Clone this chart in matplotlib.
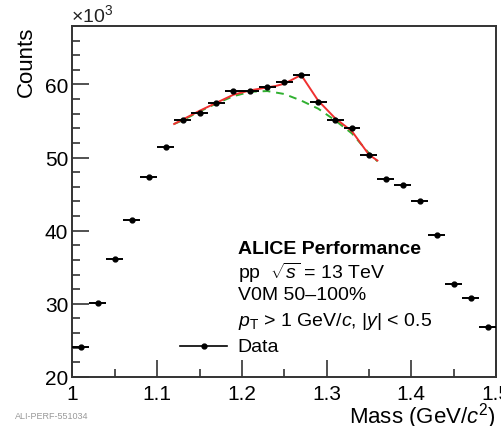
import matplotlib
matplotlib.use("Agg")
import matplotlib.pyplot as plt
from matplotlib.ticker import MultipleLocator, FuncFormatter
from matplotlib.lines import Line2D

plt.rcParams['font.family'] = ['Liberation Sans', 'DejaVu Sans']
plt.rcParams['mathtext.fontset'] = 'custom'
plt.rcParams['mathtext.rm'] = 'Liberation Sans'
plt.rcParams['mathtext.it'] = 'Liberation Sans:italic'

# invariant mass bin centres (GeV/c^2) and counts (x10^3)
mass = [1.01, 1.03, 1.05, 1.07, 1.09, 1.11, 1.13, 1.15, 1.17, 1.19, 1.21, 1.23, 1.25,
        1.27, 1.29, 1.31, 1.33, 1.35, 1.37, 1.39, 1.41, 1.43, 1.45, 1.47, 1.49]
counts = [24.1, 30.1, 36.2, 41.4, 47.3, 51.5, 55.1, 56.1, 57.5, 59.1, 59.1, 59.7, 60.4,
          61.3, 57.6, 55.2, 54.0, 50.3, 47.1, 46.3, 44.0, 39.4, 32.7, 30.8, 26.9]
counts_err = [0.16, 0.17, 0.19, 0.20, 0.22, 0.23, 0.23, 0.24, 0.24, 0.24, 0.24, 0.24, 0.25,
              0.25, 0.24, 0.23, 0.23, 0.22, 0.22, 0.22, 0.21, 0.20, 0.18, 0.18, 0.16]
bin_half = 0.01

# total fit (signal + background)
fit_x = [1.12, 1.13, 1.15, 1.17, 1.19, 1.21, 1.23, 1.24, 1.25, 1.26, 1.27, 1.29, 1.31, 1.33, 1.35, 1.36]
fit_y = [54.6, 55.2, 56.4, 57.5, 58.6, 59.2, 59.6, 59.8, 60.1, 60.7, 61.3, 57.8, 55.4, 53.6, 50.4, 49.6]

# residual background
bkg_x = [1.12, 1.13, 1.15, 1.17, 1.19, 1.21, 1.23, 1.25, 1.27, 1.29, 1.31, 1.33, 1.35, 1.36]
bkg_y = [54.6, 55.1, 56.3, 57.4, 58.4, 59.0, 59.1, 58.7, 57.8, 56.7, 55.1, 53.3, 50.6, 49.5]

fig = plt.figure(figsize=(5.02, 4.27), dpi=100)
ax = fig.add_axes([0.1444, 0.1148, 0.8436, 0.822])

ax.errorbar(mass, counts, xerr=bin_half, yerr=counts_err, fmt='o', color='black',
            ms=3.5, elinewidth=1.4, capsize=0, zorder=3)
ax.plot(fit_x, fit_y, color='#f03030', lw=1.4, zorder=2)
ax.plot(bkg_x, bkg_y, color='#30b030', lw=1.4, ls=(0, (4, 3)), zorder=1)

ax.set_xlim(1.0, 1.5)
ax.set_ylim(20, 68)
ax.xaxis.set_major_locator(MultipleLocator(0.1))
ax.xaxis.set_minor_locator(MultipleLocator(0.05))
ax.yaxis.set_major_locator(MultipleLocator(10))
ax.yaxis.set_minor_locator(MultipleLocator(2))
ax.xaxis.set_major_formatter(FuncFormatter(lambda v, p: f'{v:g}'))
ax.tick_params(which='both', direction='in', top=False, right=False, labelsize=15,
               width=1.2, color='#333333')
ax.tick_params(which='major', length=12)
ax.tick_params(which='minor', length=6)
ax.tick_params(axis='x', pad=5)
ax.tick_params(axis='y', pad=3)
for s in ax.spines.values():
    s.set_linewidth(1.4)
    s.set_color('#333333')

ax.set_xlabel('Mass (GeV/$c^{2}$)', fontsize=16, loc='right', labelpad=-2)
ax.set_ylabel('Counts', fontsize=16, loc='top', labelpad=6)
fig.text(0.141, 0.940, r'$\times10^{3}$', fontsize=14, ha='left', va='bottom', color='#222222')

# ALICE performance text
tx = 0.39
ax.text(tx, 0.365, 'ALICE Performance', transform=ax.transAxes, fontsize=14,
        fontweight='bold', va='center')
ax.text(tx, 0.300, r'pp  $\sqrt{s}$ = 13 TeV', transform=ax.transAxes, fontsize=14, va='center')
ax.text(tx, 0.234, 'V0M 50–100%', transform=ax.transAxes, fontsize=14, va='center')
ax.text(tx, 0.162, r'$p_{\rm T}$ > 1 GeV/$c$, |$y$| < 0.5', transform=ax.transAxes,
        fontsize=14, va='center')
ax.text(tx, 0.088, 'Data', transform=ax.transAxes, fontsize=14, va='center')
ax.add_line(Line2D([0.255, 0.365], [0.088, 0.088], transform=ax.transAxes, color='black', lw=1.2))
ax.add_line(Line2D([0.31], [0.088], transform=ax.transAxes, marker='o', ms=3.5, color='black'))

fig.text(0.03, 0.018, 'ALI-PERF-551034', fontsize=6.5, color='#999999')

fig.savefig('out.png', dpi=100)
